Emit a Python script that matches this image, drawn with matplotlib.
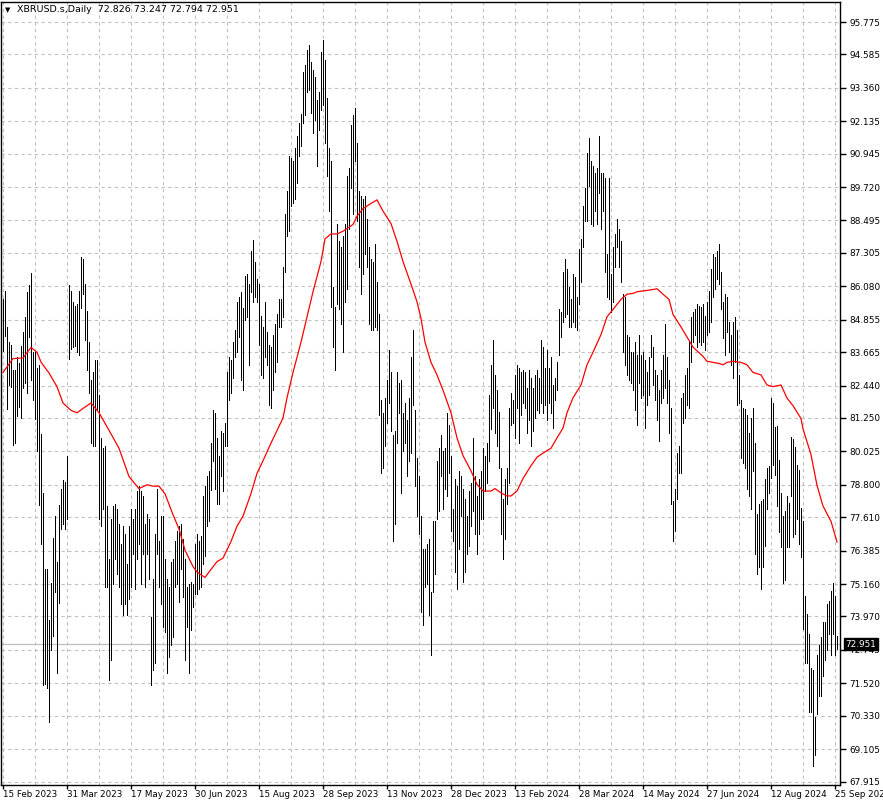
import matplotlib
matplotlib.use("Agg")
import matplotlib.pyplot as plt
import numpy as np

# daily bar ranges (high / low), one entry per bar, 15 Feb 2023 .. 25 Sep 2024
highs = [
    85.60, 85.92, 84.59, 84.03, 83.92, 83.00, 83.00, 83.47, 83.25, 83.90,
    84.40, 84.96, 85.88, 86.14, 86.56, 83.66, 83.66, 83.10, 83.20, 80.66,
    78.48, 75.70, 75.70, 73.85, 75.19, 76.85, 77.65, 75.98, 78.05, 78.66,
    78.98, 78.89, 79.87, 86.12, 85.92, 85.51, 85.36, 85.42, 85.92, 87.17,
    87.08, 86.16, 85.18, 84.03, 82.64, 82.92, 83.38, 83.38, 82.09, 80.52,
    80.14, 80.24, 78.02, 76.08, 77.55, 78.02, 78.11, 77.92, 77.37, 76.63,
    77.28, 77.00, 75.89, 77.28, 77.92, 77.55, 77.92, 78.57, 78.76, 78.57,
    78.39, 77.37, 77.74, 77.55, 73.95, 75.34, 77.00, 78.66, 76.72, 77.65,
    77.65, 76.08, 75.34, 75.06, 75.98, 76.08, 76.72, 77.09, 77.28, 77.37,
    76.82, 76.08, 75.06, 75.15, 75.24, 75.15, 76.63, 77.00, 76.72, 76.91,
    78.39, 78.76, 79.13, 79.31, 80.33, 81.53, 81.44, 80.52, 79.87, 80.79,
    80.70, 81.07, 82.92, 83.47, 83.38, 84.03, 84.49, 85.51, 85.70, 85.88,
    85.29, 86.47, 86.53, 86.16, 87.36, 87.77, 86.99, 86.34, 86.16, 84.99,
    84.59, 85.51, 84.40, 83.94, 83.84, 84.31, 84.68, 85.05, 85.60, 85.60,
    86.80, 88.75, 89.58, 90.87, 90.78, 90.69, 91.15, 91.61, 92.08, 92.39,
    93.93, 94.20, 94.76, 94.94, 94.30, 94.02, 93.74, 92.91, 93.19, 94.67,
    95.13, 94.39, 93.00, 91.15, 90.69, 86.06, 85.33, 88.38, 87.73, 87.54,
    87.91, 88.38, 90.13, 90.41, 91.98, 92.35, 92.63, 91.34, 89.58, 89.39,
    89.30, 89.39, 88.56, 87.54, 87.08, 86.99, 87.64, 86.25, 85.05, 81.90,
    81.44, 81.99, 82.64, 83.75, 82.92, 80.61, 80.79, 82.92, 82.55, 82.64,
    81.44, 81.81, 81.16, 81.99, 83.47, 84.49, 81.53, 79.77, 79.13, 77.65,
    76.45, 76.45, 76.63, 76.82, 74.87, 77.46, 77.46, 79.68, 80.14, 80.61,
    80.05, 80.14, 81.44, 80.98, 79.87, 77.92, 79.03, 78.76, 79.31, 79.13,
    78.66, 78.29, 77.65, 78.57, 78.85, 80.52, 79.13, 78.39, 79.03, 79.31,
    80.14, 79.87, 80.33, 82.09, 83.20, 84.12, 82.83, 82.27, 81.48, 79.40,
    78.29, 79.03, 79.40, 81.62, 82.18, 81.90, 82.83, 83.20, 83.10, 82.92,
    83.01, 82.92, 82.36, 83.01, 82.73, 82.36, 82.83, 83.01, 82.73, 84.12,
    83.84, 83.10, 83.75, 83.10, 83.47, 82.46, 82.73, 83.29, 85.23, 85.14,
    86.62, 87.08, 86.71, 86.06, 85.60, 86.53, 86.43, 85.70, 87.45, 87.82,
    89.02, 89.67, 90.97, 91.52, 90.69, 90.50, 90.23, 90.41, 91.61, 90.23,
    90.23, 90.04, 87.27, 90.04, 86.53, 87.54, 88.00, 88.56, 88.19, 87.73,
    85.79, 85.70, 84.31, 84.22, 83.66, 83.66, 84.03, 83.57, 84.31, 83.57,
    83.66, 83.38, 82.92, 83.47, 84.31, 83.84, 83.01, 82.83, 82.27, 83.01,
    83.57, 84.68, 83.47, 82.64, 81.62, 78.20, 78.66, 79.96, 80.24, 81.99,
    82.18, 82.83, 83.10, 84.03, 84.96, 85.14, 85.23, 85.42, 85.36, 85.32,
    85.42, 84.99, 85.51, 85.92, 86.71, 87.27, 87.17, 87.36, 87.64, 86.62,
    85.51, 85.79, 85.70, 84.77, 84.31, 84.77, 84.96, 84.49, 82.83, 81.90,
    81.62, 81.59, 81.35, 80.70, 81.25, 81.62, 80.33, 77.74, 78.11, 78.20,
    78.29, 79.03, 79.40, 79.50, 81.98, 81.80, 80.91, 80.95, 79.72, 78.50,
    77.65, 77.84, 78.40, 78.12, 80.57, 80.48, 80.19, 79.53, 79.35, 77.93,
    77.46, 74.72, 74.06, 73.31, 72.08, 71.99, 70.29, 72.56, 72.93, 73.21,
    73.78, 73.78, 74.44, 74.54, 74.91, 75.19, 74.72, 73.25,
]
lows = [
    83.72, 84.27, 81.59, 82.46, 82.40, 80.27, 80.33, 81.33, 81.66, 81.25,
    82.36, 82.55, 82.18, 84.22, 82.64, 81.90, 81.22, 80.05, 78.05, 76.63,
    71.45, 71.49, 71.36, 70.10, 72.74, 73.26, 74.87, 71.91, 74.48, 77.18,
    77.37, 77.18, 77.55, 83.42, 83.79, 83.84, 83.88, 83.66, 83.57, 85.29,
    85.79, 84.12, 83.01, 82.18, 80.33, 80.24, 80.24, 81.53, 77.55, 77.28,
    77.92, 75.06, 75.06, 71.64, 72.37, 75.15, 76.08, 75.52, 75.06, 74.41,
    74.04, 74.41, 74.04, 74.60, 75.06, 76.26, 74.97, 76.08, 76.63, 75.15,
    76.26, 75.06, 76.26, 75.34, 71.45, 72.00, 72.28, 76.26, 75.06, 74.41,
    73.58, 73.39, 71.91, 72.47, 72.93, 73.21, 75.06, 75.15, 74.50, 75.70,
    74.69, 72.37, 73.58, 71.91, 73.48, 74.32, 74.78, 74.78, 74.97, 75.06,
    75.89, 76.17, 77.28, 77.46, 78.60, 79.68, 78.66, 78.11, 78.11, 79.13,
    78.57, 80.24, 80.24, 81.90, 82.18, 82.73, 83.47, 83.66, 84.22, 82.64,
    82.27, 84.86, 84.96, 83.20, 85.88, 85.51, 85.70, 85.51, 83.94, 82.83,
    82.73, 83.47, 83.20, 81.72, 81.62, 82.27, 82.92, 83.29, 84.59, 84.59,
    84.96, 86.62, 87.91, 88.10, 89.02, 89.12, 89.30, 89.86, 90.87, 91.24,
    92.08, 92.35, 93.19, 93.28, 92.45, 91.71, 92.17, 90.50, 91.80, 92.54,
    92.72, 91.34, 90.13, 88.84, 85.33, 83.84, 83.01, 85.42, 85.23, 84.68,
    83.66, 85.51, 85.97, 88.19, 89.67, 88.75, 90.69, 88.47, 86.80, 85.79,
    86.53, 87.27, 86.80, 84.68, 84.49, 84.49, 84.59, 84.49, 81.35, 79.22,
    79.40, 80.24, 81.07, 81.81, 80.79, 76.72, 77.37, 80.33, 81.44, 78.48,
    80.05, 80.33, 79.13, 79.68, 79.96, 81.72, 78.76, 77.65, 77.00, 74.13,
    73.67, 75.06, 75.15, 74.04, 72.56, 74.87, 75.52, 77.55, 77.83, 79.13,
    77.92, 78.66, 78.39, 79.22, 77.09, 76.72, 75.61, 74.97, 76.45, 77.65,
    75.24, 75.61, 76.26, 76.54, 77.28, 77.83, 77.00, 76.26, 77.00, 77.55,
    77.55, 78.57, 78.85, 79.68, 80.85, 81.62, 80.70, 80.24, 79.40, 77.00,
    76.08, 76.82, 78.11, 78.85, 80.98, 81.07, 80.52, 81.62, 80.33, 81.35,
    81.81, 81.62, 80.70, 81.16, 80.24, 80.79, 81.25, 81.53, 81.44, 81.81,
    81.44, 81.72, 81.16, 81.81, 81.44, 80.88, 81.90, 82.27, 83.57, 84.22,
    84.77, 84.96, 85.05, 84.59, 84.59, 84.77, 84.59, 84.49, 85.42, 86.25,
    87.54, 88.47, 88.47, 89.76, 88.38, 88.28, 88.84, 88.38, 89.49, 88.19,
    88.84, 86.62, 85.70, 85.60, 85.14, 85.51, 86.80, 87.54, 86.80, 86.25,
    83.66, 83.20, 82.83, 82.64, 82.55, 82.27, 81.53, 80.98, 82.55, 81.99,
    82.09, 80.88, 81.72, 82.09, 83.47, 82.46, 81.90, 81.16, 80.42, 81.81,
    81.99, 82.36, 81.81, 80.70, 78.11, 76.72, 77.09, 78.29, 79.22, 79.22,
    81.07, 81.25, 81.72, 81.62, 83.29, 84.03, 84.31, 83.84, 84.03, 83.94,
    84.03, 83.75, 84.31, 84.40, 84.77, 85.70, 85.97, 86.34, 86.16, 85.23,
    84.18, 83.57, 84.40, 83.66, 83.20, 82.73, 83.29, 81.72, 81.81, 79.77,
    79.59, 79.40, 78.66, 78.39, 77.92, 79.31, 76.26, 75.52, 75.80, 74.97,
    75.80, 76.54, 77.92, 78.48, 79.06, 79.53, 79.16, 78.02, 77.08, 76.52,
    75.19, 75.29, 76.52, 76.52, 78.40, 76.89, 76.99, 77.55, 76.61, 76.14,
    73.50, 72.27, 72.27, 70.48, 70.48, 68.50, 68.88, 70.38, 71.05, 71.05,
    71.80, 72.37, 72.74, 73.31, 72.56, 73.31, 72.56, 72.79,
]

# moving average (red line), read at selected bars
ma_bar = [0, 5, 10, 14, 17, 19, 23, 27, 30, 34, 37, 40, 44, 48, 53, 58, 63, 68,
          72, 75, 78, 81, 85, 88, 91, 95, 97, 101, 103, 107, 110, 114, 117, 120,
          124, 127, 130, 134, 137, 140, 142, 145, 149, 152, 155, 159, 161, 164,
          167, 170, 175, 177, 180, 184, 187, 190, 194, 197, 200, 204, 207, 209,
          211, 214, 217, 220, 224, 227, 230, 234, 237, 240, 244, 246, 249, 252,
          254, 257, 260, 264, 267, 270, 274, 277, 280, 282, 285, 289, 292, 295,
          299, 302, 305, 309, 312, 315, 317, 320, 324, 327, 330, 333, 335, 339,
          342, 345, 350, 352, 355, 358, 360, 362, 365, 369, 372, 375, 379, 382,
          385, 389, 392, 395, 399, 400, 404, 407, 410, 414, 417]
ma_val = [82.92, 83.43, 83.45, 83.84, 83.66, 83.30, 82.90, 82.40, 81.80, 81.53,
          81.44, 81.60, 81.80, 81.44, 80.80, 80.14, 79.10, 78.66, 78.80, 78.75,
          78.75, 78.47, 77.70, 77.18, 76.40, 75.80, 75.60, 75.40, 75.60, 75.98,
          76.11, 76.72, 77.28, 77.65, 78.48, 79.22, 79.68, 80.33, 80.79, 81.25,
          81.99, 82.92, 84.03, 84.95, 85.88, 86.99, 87.82, 88.00, 88.00, 88.10,
          88.35, 88.65, 88.93, 89.12, 89.25, 88.84, 88.38, 87.73, 86.99, 86.16,
          85.51, 84.90, 84.03, 83.29, 82.83, 82.27, 81.44, 80.52, 79.87, 79.31,
          78.81, 78.57, 78.57, 78.66, 78.50, 78.39, 78.39, 78.57, 79.03, 79.50,
          79.81, 79.96, 80.14, 80.52, 80.88, 81.44, 81.99, 82.46, 83.20, 83.66,
          84.31, 84.96, 85.23, 85.60, 85.79, 85.82, 85.88, 85.91, 85.95, 85.99,
          85.79, 85.60, 85.05, 84.59, 84.22, 83.85, 83.51, 83.33, 83.29, 83.25,
          83.20, 83.29, 83.33, 83.29, 83.20, 82.92, 82.83, 82.46, 82.40, 82.46,
          81.98, 81.70, 81.23, 80.85, 79.91, 78.78, 78.02, 77.46, 76.70]

price_ticks = [95.775, 94.585, 93.360, 92.135, 90.945, 89.720, 88.495, 87.305,
               86.080, 84.855, 83.665, 82.440, 81.250, 80.025, 78.800, 77.610,
               76.385, 75.160, 73.970, 72.745, 71.520, 70.330, 69.105, 67.915]
date_labels = ["15 Feb 2023", "31 Mar 2023", "17 May 2023", "30 Jun 2023",
               "15 Aug 2023", "28 Sep 2023", "13 Nov 2023", "28 Dec 2023",
               "13 Feb 2024", "28 Mar 2024", "14 May 2024", "27 Jun 2024",
               "12 Aug 2024", "25 Sep 2024"]
last_price = 72.951

W, H = 883, 805
fig = plt.figure(figsize=(W / 100, H / 100), dpi=100)
ax = fig.add_axes([1 / W, 20 / H, 839 / W, 783 / H])

x = np.arange(len(highs))
ax.set_xlim(-1, 418.5)
ax.set_ylim(67.787, 96.509)

# dashed grid
grid_kw = dict(color="#c0c0c0", lw=0.8, ls=(0, (3, 3)), zorder=0)
for p in price_ticks:
    ax.axhline(p, **grid_kw)
for g in range(0, len(highs), 16):
    ax.axvline(g, **grid_kw)

ax.axhline(last_price, color="#c0c0c0", lw=0.9, zorder=1)

ax.vlines(x, lows, highs, colors="black", lw=0.5, antialiased=False, zorder=2)
ax.plot(ma_bar, ma_val, color="red", lw=0.9, zorder=3)

ax.yaxis.tick_right()
ax.set_yticks(price_ticks)
ax.set_yticklabels(["%.3f" % p for p in price_ticks])
ax.tick_params(axis="y", direction="out", length=4, width=1, pad=3, labelsize=6.4)

ax.set_xticks(range(0, 32 * len(date_labels), 32))
ax.set_xticklabels(date_labels, ha="left")
ax.tick_params(axis="x", direction="out", length=3, width=1, pad=0.5, labelsize=6.3)

for s in ax.spines.values():
    s.set_color("black")
    s.set_linewidth(1)

ax.text(1.0065, last_price, "%.3f" % last_price, transform=ax.get_yaxis_transform(),
        ha="left", va="center", color="white", fontsize=6.4, clip_on=False,
        zorder=5, bbox=dict(facecolor="black", edgecolor="black", pad=1.0))

fig.text(5 / W, 1 - 10 / H, "\u25bc", fontsize=5, va="center", ha="left")
fig.text(17 / W, 1 - 10 / H, "XBRUSD.s,Daily  72.826 73.247 72.794 72.951",
         fontsize=6.8, va="center", ha="left")

fig.savefig("out.png", dpi=100, facecolor="white")
